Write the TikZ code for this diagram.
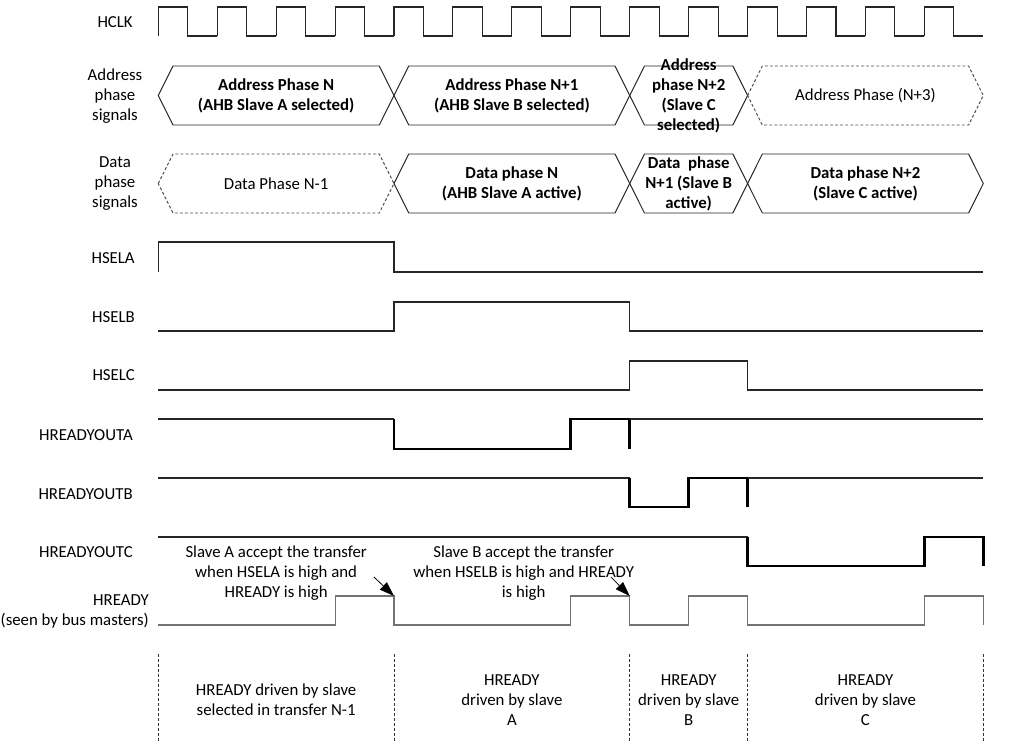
\documentclass[tikz,border=0pt]{standalone}
\usepackage{fontspec}
\setmainfont{Carlito}
\usetikzlibrary{arrows.meta}
\begin{document}
\begin{tikzpicture}[x=0.75pt,y=-0.75pt,
    font=\fontsize{12.6}{15}\selectfont,
    sig/.style={line width=0.8pt,black!85},
    busy/.style={line width=2.1pt,black},
    rdy/.style={line width=0.8pt,black!55},
    phase/.style={line width=0.7pt,black!85},
    nophase/.style={line width=0.7pt,black!70,dash pattern=on 2.2pt off 1.6pt},
    bound/.style={line width=0.7pt,black!80,dash pattern=on 2.2pt off 1.5pt},
    lbl/.style={align=center,inner sep=0pt},
    hd/.style={lbl,font=\fontsize{12.6}{15}\selectfont\bfseries},
    note/.style={line width=0.6pt,-{Triangle[length=11pt,width=7.5pt]}}]
  \useasboundingbox (0,0) rectangle (1017,754);
  % signal names
  \node[lbl,anchor=east] (hclk) at (133,22) {HCLK};
  \node[lbl] (addr) at (115,96) {Address\\phase\\signals};
  \node[lbl] (data) at (115,184) {Data\\phase\\signals};
  \node[lbl,anchor=east] (sela) at (135,258) {HSELA};
  \node[lbl,anchor=east] (selb) at (135,317) {HSELB};
  \node[lbl,anchor=east] (selc) at (135,375) {HSELC};
  \node[lbl,anchor=east] (outa) at (133,435) {HREADYOUTA};
  \node[lbl,anchor=east] (outb) at (133,494) {HREADYOUTB};
  \node[lbl,anchor=east] (outc) at (133,552) {HREADYOUTC};
  \node[lbl,anchor=east,align=right] (rdy) at (149,611) {HREADY\\(seen by bus masters)};
  \begin{scope}[xshift=118.7pt,x=44.2pt]
    % clock
    \foreach \k in {0,...,13}{
      \draw[sig] (\k,36)--(\k,7)--(\k+0.5,7)--(\k+0.5,36)--(\k+1,36);
    }
    % address and data phases
    \foreach \a/\b/\s in {0/4/phase,4/8/phase,8/10/phase,10/14/nophase}{
      \draw[\s] (\a,95.5)--(\a+0.25,66)--(\b-0.25,66)--(\b,95.5)--(\b-0.25,125)--(\a+0.25,125)--cycle;
    }
    \foreach \a/\b/\s in {0/4/nophase,4/8/phase,8/10/phase,10/14/phase}{
      \draw[\s] (\a,183.5)--(\a+0.25,154)--(\b-0.25,154)--(\b,183.5)--(\b-0.25,213)--(\a+0.25,213)--cycle;
    }
    \node[hd] (apN) at (2,95.5) {Address Phase N\\(AHB Slave A selected)};
    \node[hd] (apN1) at (6,95.5) {Address Phase N+1\\(AHB Slave B selected)};
    \node[hd] (apN2) at (9,95.5) {Address\\phase N+2\\(Slave C\\selected)};
    \node[lbl] (apN3) at (12,95.5) {Address Phase (N+3)};
    \node[lbl] (dpN0) at (2,183.5) {Data Phase N-1};
    \node[hd] (dpN) at (6,183.5) {Data phase N\\(AHB Slave A active)};
    \node[hd] (dpN1) at (9,183.5) {Data~ phase\\N+1 (Slave B\\active)};
    \node[hd] (dpN2) at (12,183.5) {Data phase N+2\\(Slave C active)};
    % slave selects
    \draw[sig] (0,272)--(0,242)--(4,242)--(4,272)--(14,272);
    \draw[sig] (0,331)--(4,331)--(4,302)--(8,302)--(8,331)--(14,331);
    \draw[sig] (0,390)--(8,390)--(8,361)--(10,361)--(10,390)--(14,390);
    % ready outputs
    \foreach \hi/\lo/\a/\b/\c in {419/449/4/7/8,478/507/8/9/10,537/566/10/13/14}{
      \draw[sig] (0,\hi)--(\a,\hi);
      \draw[busy] (\a,\hi)--(\a,\lo)--(\b,\lo)--(\b,\hi)--(\c,\hi)--(\c,\lo);
      \draw[sig] (\c,\hi)--(14,\hi);
    }
    \draw[rdy] (0,625)--(3,625)--(3,596)--(4,596)--(4,625)--(7,625)--(7,596)--(8,596)--(8,625)
      --(9,625)--(9,596)--(10,596)--(10,625)--(13,625)--(13,596)--(14,596)--(14,625);
    % notes
    \node[lbl] (noteA) at (2,573) {Slave A accept the transfer\\when HSELA is high and\\HREADY is high};
    \node[lbl] (noteB) at (6.2,573) {Slave B accept the transfer\\when HSELB is high and HREADY\\is high};
    \coordinate (tailA) at (3.66,577);
    \coordinate (tipA) at (4,596);
    \coordinate (tailB) at (7.68,577);
    \coordinate (tipB) at (8,596);
    \draw[note] (tailA)--(tipA);
    \draw[note] (tailB)--(tipB);
    % who drives HREADY
    \foreach \t in {0,4,8,10,14}{
      \draw[bound] (\t,654)--(\t,742);
    }
    \node[lbl] (drvN) at (2,700) {HREADY driven by slave\\selected in transfer N-1};
    \node[lbl] (drvA) at (6,700) {HREADY\\driven by slave\\A};
    \node[lbl] (drvB) at (9,700) {HREADY\\driven by slave\\B};
    \node[lbl] (drvC) at (12,700) {HREADY\\driven by slave\\C};
  \end{scope}
\end{tikzpicture}
\end{document}
